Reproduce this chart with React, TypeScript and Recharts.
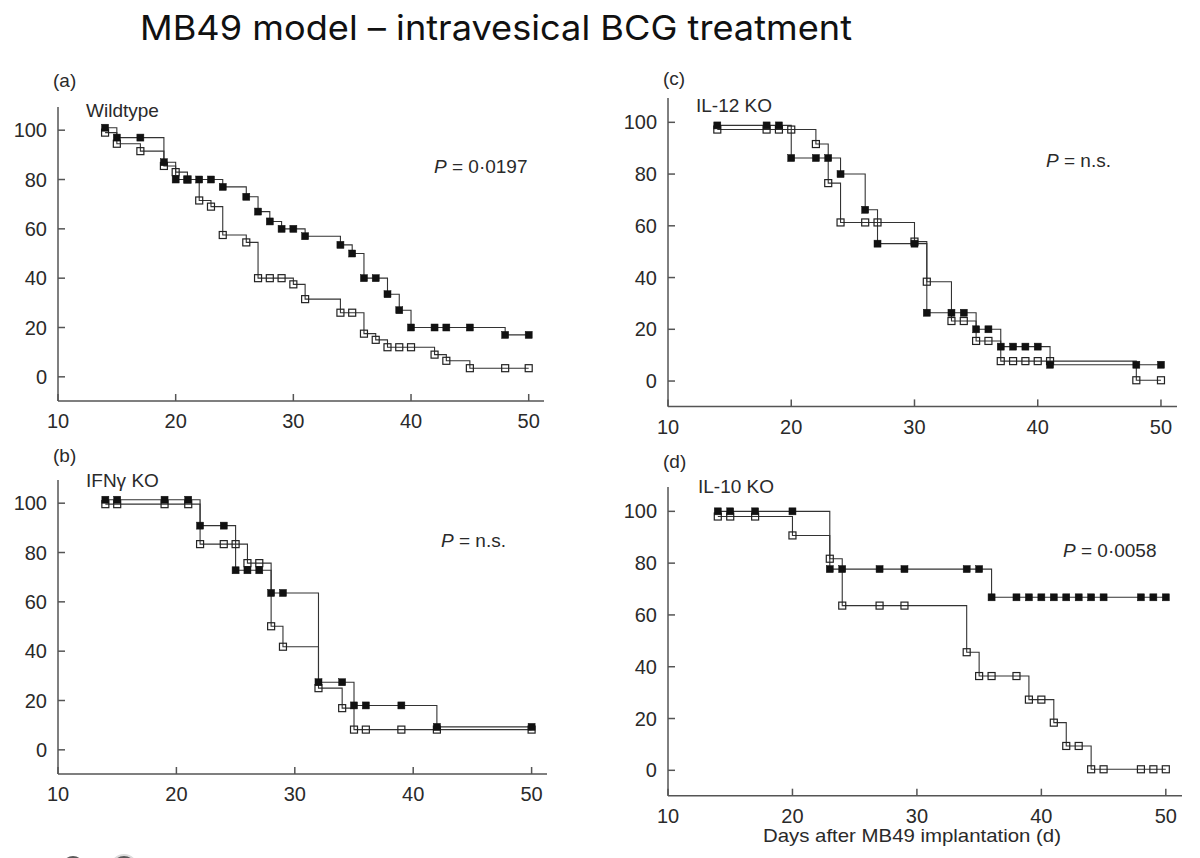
import React from 'react';
import { LineChart, Line, XAxis, YAxis } from 'recharts';

const xTicks = [10, 20, 30, 40, 50];
const yTicks = [0, 20, 40, 60, 80, 100];

// (a) Wildtype
const wtBcgDays = [14, 15, 17, 19, 20, 21, 22, 23, 24, 26, 27, 28, 29, 30, 31, 34, 35, 36, 37, 38, 39, 40, 42, 43, 45, 48, 50];
const wtBcg = [101, 97, 97, 87, 80, 80, 80, 80, 77, 73, 67, 63, 60, 60, 57, 53.5, 50, 40, 40, 33.5, 27, 20, 20, 20, 20, 17, 17];
const wtCtrlDays = [14, 15, 17, 19, 20, 21, 22, 23, 24, 26, 27, 28, 29, 30, 31, 34, 35, 36, 37, 38, 39, 40, 42, 43, 45, 48, 50];
const wtCtrl = [99, 94.5, 91.5, 85.5, 83, 80, 71.5, 69, 57.5, 54.5, 40, 40, 40, 37.5, 31.5, 26, 26, 17.5, 15, 12, 12, 12, 9, 6.5, 3.5, 3.5, 3.5];

// (b) IFNγ KO
const ifnBcgDays = [14, 15, 19, 21, 22, 24, 25, 26, 27, 28, 29, 32, 34, 35, 36, 39, 42, 50];
const ifnBcg = [101.4, 101.4, 101.4, 101.4, 90.9, 90.9, 72.8, 72.8, 72.8, 63.6, 63.6, 27.4, 27.4, 18, 18, 18, 9.3, 9.3];
const ifnCtrlDays = [14, 15, 19, 21, 22, 24, 25, 26, 27, 28, 29, 32, 34, 35, 36, 39, 42, 50];
const ifnCtrl = [99.6, 99.6, 99.6, 99.6, 83.4, 83.4, 83.4, 75.7, 75.7, 50.1, 41.8, 25, 16.9, 8.2, 8.2, 8.2, 8.2, 8.2];

// (c) IL-12 KO
const il12BcgDays = [14, 18, 19, 20, 22, 23, 24, 26, 27, 30, 31, 33, 34, 35, 36, 37, 38, 39, 40, 41, 48, 50];
const il12Bcg = [98.8, 98.8, 98.8, 86.2, 86.2, 86.2, 80, 66.2, 53.1, 53.1, 26.4, 26.4, 26.4, 20, 20, 13.3, 13.3, 13.3, 13.3, 6.3, 6.3, 6.3];
const il12CtrlDays = [14, 18, 19, 20, 22, 23, 24, 26, 27, 30, 31, 33, 34, 35, 36, 37, 38, 39, 40, 41, 48, 50];
const il12Ctrl = [97.2, 97.2, 97.2, 97.2, 91.6, 76.5, 61.3, 61.3, 61.3, 53.9, 38.4, 23.2, 23.2, 15.5, 15.5, 7.7, 7.7, 7.7, 7.7, 7.7, 0.3, 0.3];

// (d) IL-10 KO
const il10BcgDays = [14, 15, 17, 20, 23, 24, 27, 29, 34, 35, 36, 38, 39, 40, 41, 42, 43, 44, 45, 48, 49, 50];
const il10Bcg = [100, 100, 100, 100, 77.7, 77.7, 77.7, 77.7, 77.7, 77.7, 66.8, 66.8, 66.8, 66.8, 66.8, 66.8, 66.8, 66.8, 66.8, 66.8, 66.8, 66.8];
const il10CtrlDays = [14, 15, 17, 20, 23, 24, 27, 29, 34, 35, 36, 38, 39, 40, 41, 42, 43, 44, 45, 48, 49, 50];
const il10Ctrl = [98, 98, 98, 90.7, 81.7, 63.6, 63.6, 63.6, 45.6, 36.4, 36.4, 36.4, 27.3, 27.3, 18.4, 9.4, 9.4, 0.4, 0.4, 0.4, 0.4, 0.4];

const rows = (days: number[], vals: number[]) => days.map((d, i) => ({ day: d, pct: vals[i] }));

const INK = '#2a2a2a';
const AXIS = '#555';
const FONT = '"Liberation Sans", Arial, sans-serif';

const filledDot = (p: any) => (
  <rect key={`f-${p.index}`} x={p.cx - 3.5} y={p.cy - 3.5} width={7} height={7} fill="#111" stroke="#111" strokeWidth={0.5} />
);
const openDot = (p: any) => (
  <rect key={`o-${p.index}`} x={p.cx - 3.5} y={p.cy - 3.5} width={7} height={7} fill="none" stroke="#222" strokeWidth={1.2} />
);

type Frame = { left: number; top: number; w: number; h: number };

const Panel = ({ frame, bcg, ctrl }: { frame: Frame; bcg: any[]; ctrl: any[] }) => {
  const mL = 70, mT = 12, mR = 12, mB = 50;
  return (
    <div style={{ position: 'absolute', left: frame.left - mL, top: frame.top - mT }}>
      <LineChart width={frame.w + mL + mR} height={frame.h + mT + mB} margin={{ top: mT, right: mR, left: 0, bottom: 0 }}>
        <XAxis
          type="number"
          dataKey="day"
          domain={[10, 51.3]}
          ticks={xTicks}
          height={mB}
          tickSize={-7}
          tickMargin={20}
          stroke={AXIS}
          strokeWidth={1.5}
          tick={{ fill: INK, fontSize: 20, fontFamily: FONT }}
          allowDataOverflow
        />
        <YAxis
          type="number"
          domain={[-9.8, 109.4]}
          ticks={yTicks}
          width={mL}
          tickSize={-7}
          tickMargin={18}
          stroke={AXIS}
          strokeWidth={1.5}
          tick={{ fill: INK, fontSize: 20, fontFamily: FONT }}
          allowDataOverflow
        />
        <Line data={ctrl} dataKey="pct" type="stepAfter" stroke="#333" strokeWidth={1.1} dot={openDot} activeDot={false} isAnimationActive={false} />
        <Line data={bcg} dataKey="pct" type="stepAfter" stroke="#333" strokeWidth={1.1} dot={filledDot} activeDot={false} isAnimationActive={false} />
      </LineChart>
    </div>
  );
};

const lbl = { fontFamily: FONT, fontSize: 19, fill: INK } as const;

export default function App() {
  return (
    <div style={{ position: 'relative', width: 1200, height: 858, background: '#fff', overflow: 'hidden' }}>
      <style>{'body{margin:0}'}</style>
      <Panel frame={{ left: 58, top: 106.8, w: 486, h: 294 }} bcg={rows(wtBcgDays, wtBcg)} ctrl={rows(wtCtrlDays, wtCtrl)} />
      <Panel frame={{ left: 58, top: 480, w: 489, h: 294 }} bcg={rows(ifnBcgDays, ifnBcg)} ctrl={rows(ifnCtrlDays, ifnCtrl)} />
      <Panel frame={{ left: 668, top: 98, w: 509, h: 308.4 }} bcg={rows(il12BcgDays, il12Bcg)} ctrl={rows(il12CtrlDays, il12Ctrl)} />
      <Panel frame={{ left: 668, top: 486.7, w: 514, h: 308.7 }} bcg={rows(il10BcgDays, il10Bcg)} ctrl={rows(il10CtrlDays, il10Ctrl)} />
      <svg width={1200} height={858} style={{ position: 'absolute', left: 0, top: 0, pointerEvents: 'none' }}>
        <text x={140} y={40} fontFamily="Inter, 'Noto Sans', sans-serif" fontSize={34} fill="#111" textLength={712} lengthAdjust="spacingAndGlyphs">
          MB49 model – intravesical BCG treatment
        </text>

        <text x={53} y={87} {...lbl}>(a)</text>
        <text x={86} y={117} {...lbl}>Wildtype</text>
        <text x={434} y={173} {...lbl}><tspan fontStyle="italic">P</tspan> = 0·0197</text>

        <text x={53} y={462} {...lbl}>(b)</text>
        <text x={86} y={487} {...lbl}>IFNγ KO</text>
        <text x={441} y={547} {...lbl}><tspan fontStyle="italic">P</tspan> = n.s.</text>

        <text x={663} y={85} {...lbl}>(c)</text>
        <text x={696} y={112} {...lbl}>IL-12 KO</text>
        <text x={1046} y={167} {...lbl}><tspan fontStyle="italic">P</tspan> = n.s.</text>

        <text x={663} y={468} {...lbl}>(d)</text>
        <text x={698} y={493} {...lbl}>IL-10 KO</text>
        <text x={1063} y={557} {...lbl}><tspan fontStyle="italic">P</tspan> = 0·0058</text>

        <text x={763} y={842} {...lbl} textLength={298} lengthAdjust="spacingAndGlyphs">Days after MB49 implantation (d)</text>

        <circle cx={73} cy={867} r={11} fill="#5a5a5a" />
        <circle cx={124} cy={868} r={13} fill="#5a5a5a" stroke="#ddd" strokeWidth={2} />
      </svg>
    </div>
  );
}
